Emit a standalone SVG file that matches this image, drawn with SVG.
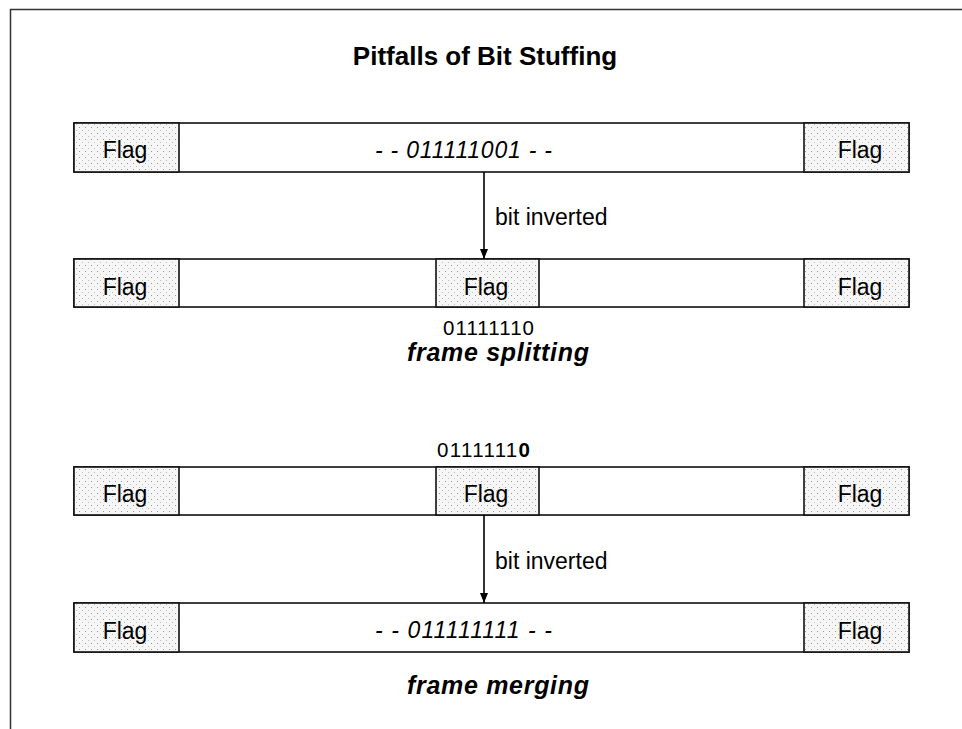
<svg xmlns="http://www.w3.org/2000/svg" width="962" height="729" viewBox="0 0 962 729">
<defs>
  <pattern id="stipple" width="6" height="6" patternUnits="userSpaceOnUse">
    <rect width="6" height="6" fill="#f6f6f6"/>
    <rect x="1" y="1" width="1" height="1" fill="#9a9a9a"/>
    <rect x="4" y="4" width="1" height="1" fill="#c0c0c0"/>
  </pattern>
  <marker id="arrow" viewBox="0 0 10 10" refX="10" refY="5" markerWidth="10" markerHeight="10" markerUnits="userSpaceOnUse" orient="auto">
    <path d="M0,1 L10,5 L0,9 Z" fill="#000"/>
  </marker>
</defs>
<style>
  text { font-family: "Liberation Sans", Arial, sans-serif; fill: #000; }
  .frame { fill: #fff; stroke: #111; stroke-width: 1.6; }
  .flag { fill: url(#stipple); stroke: #111; stroke-width: 1.6; }
  .flagtxt { font-size: 23px; text-anchor: middle; }
  .bits { font-size: 23px; font-style: italic; }
  .lbl { font-size: 23px; }
  .num { font-size: 20.5px; }
  .caption { font-size: 25px; font-weight: bold; font-style: italic; }
  .title { font-size: 26px; font-weight: bold; text-anchor: middle; }
  .conn { stroke: #000; stroke-width: 1.6; fill: none; marker-end: url(#arrow); }
  .border { stroke: #333; stroke-width: 1.5; fill: none; }
</style>
<rect width="962" height="729" fill="#fff"/>
<path class="border" d="M10.5,729 L10.5,9.5 L962,9.5"/>

<text class="title" x="485" y="65">Pitfalls of Bit Stuffing</text>

<g id="frame1">
  <rect class="frame" x="74" y="123" width="835" height="49"/>
  <rect class="flag" x="74" y="123" width="105" height="49"/>
  <rect class="flag" x="804" y="123" width="105" height="49"/>
  <text class="flagtxt" x="125" y="158">Flag</text>
  <text class="flagtxt" x="860" y="158">Flag</text>
  <text class="bits" x="375" y="158" textLength="177" lengthAdjust="spacing">- - 011111001 - -</text>
</g>

<g id="frame2">
  <rect class="frame" x="74" y="259" width="835" height="48"/>
  <rect class="flag" x="74" y="259" width="105" height="48"/>
  <rect class="flag" x="436" y="259" width="103" height="48"/>
  <rect class="flag" x="804" y="259" width="105" height="48"/>
  <text class="flagtxt" x="125" y="295">Flag</text>
  <text class="flagtxt" x="486" y="295">Flag</text>
  <text class="flagtxt" x="860" y="295">Flag</text>
</g>
<text class="num" x="443" y="335" textLength="91" lengthAdjust="spacing">01111110</text>
<text class="caption" x="407" y="361" textLength="182" lengthAdjust="spacing">frame splitting</text>

<text class="num" x="437" y="457" textLength="93" lengthAdjust="spacing">0111111<tspan font-weight="bold">0</tspan></text>

<g id="frame3">
  <rect class="frame" x="74" y="467" width="835" height="48"/>
  <rect class="flag" x="74" y="467" width="105" height="48"/>
  <rect class="flag" x="436" y="467" width="103" height="48"/>
  <rect class="flag" x="804" y="467" width="105" height="48"/>
  <text class="flagtxt" x="125" y="502">Flag</text>
  <text class="flagtxt" x="486" y="502">Flag</text>
  <text class="flagtxt" x="860" y="502">Flag</text>
</g>

<g id="frame4">
  <rect class="frame" x="74" y="603" width="835" height="49"/>
  <rect class="flag" x="74" y="603" width="105" height="49"/>
  <rect class="flag" x="804" y="603" width="105" height="49"/>
  <text class="flagtxt" x="125" y="639">Flag</text>
  <text class="flagtxt" x="860" y="639">Flag</text>
  <text class="bits" x="375" y="638" textLength="177" lengthAdjust="spacing">- - 011111111 - -</text>
</g>
<text class="caption" x="407" y="694" textLength="182" lengthAdjust="spacing">frame merging</text>

<g id="connectors">
  <line class="conn" x1="484" y1="172" x2="484" y2="259"/>
  <text class="lbl" x="495" y="225">bit inverted</text>
  <line class="conn" x1="484" y1="515" x2="484" y2="603"/>
  <text class="lbl" x="495" y="569">bit inverted</text>
</g>
</svg>
